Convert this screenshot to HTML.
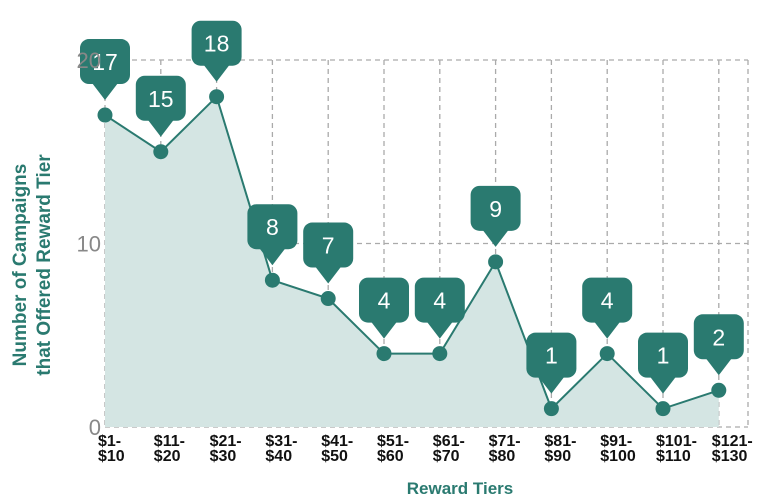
<!DOCTYPE html>
<html><head><meta charset="utf-8"><style>
body{margin:0;background:#fff;}
svg{display:block;font-family:"Liberation Sans",sans-serif;}
</style></head><body>
<svg id="chart" width="784" height="500" viewBox="0 0 784 500">
<g id="grid"></g>
<g id="area"></g>
<g id="labels"></g>
<g id="ticks"></g>
<text transform="translate(26,265) rotate(-90)" text-anchor="middle" fill="#2a7a70" font-weight="bold" font-size="19"><tspan x="0" dy="0">Number of Campaigns</tspan><tspan x="0" dy="24">that Offered Reward Tier</tspan></text>
<text x="460" y="494" text-anchor="middle" fill="#2a7a70" font-weight="bold" font-size="17">Reward Tiers</text>
</svg>
<script>
const categories=["$1-|$10","$11-|$20","$21-|$30","$31-|$40","$41-|$50","$51-|$60","$61-|$70","$71-|$80","$81-|$90","$91-|$100","$101-|$110","$121-|$130"];
const values=[17,15,18,8,7,4,4,9,1,4,1,2];
const yTicks=[0,10,20];
const NS="http://www.w3.org/2000/svg";
const x0=105,step=55.8,yBase=427,yPer=18.35;
const xs=i=>x0+i*step, ys=v=>yBase-v*yPer;
function mk(tag,attrs,parent){const e=document.createElementNS(NS,tag);for(const k in attrs)e.setAttribute(k,attrs[k]);parent.appendChild(e);return e;}
const grid=document.getElementById('grid'),area=document.getElementById('area'),labels=document.getElementById('labels'),ticks=document.getElementById('ticks');
let d="M"+xs(0)+","+yBase;values.forEach((v,i)=>d+=" L"+xs(i)+","+ys(v));d+=" L"+xs(values.length-1)+","+yBase+" Z";
const ar=mk('path',{d:d,fill:"#d4e5e3"},area);


const xEnd=748;
yTicks.forEach(t=>{const l=mk('line',{x1:xs(0),x2:xEnd,y1:ys(t),y2:ys(t),stroke:"#aaa","stroke-dasharray":"5,4","stroke-width":1.3},grid);


const tx=mk('text',{x:xs(0)-4,y:ys(t)+8,"text-anchor":"end",fill:"#888","font-size":22},ticks);tx.textContent=t;

});
categories.forEach((c,i)=>{const l=mk('line',{x1:xs(i),x2:xs(i),y1:ys(20),y2:yBase,stroke:"#aaa","stroke-dasharray":"5,4","stroke-width":1.3},grid);


const p=c.split("|");const t=mk('text',{x:xs(i)-7,y:446,fill:"#111","font-size":16,"font-weight":"bold"},ticks);


mk('tspan',{x:xs(i)-7,dy:0},t).textContent=p[0];mk('tspan',{x:xs(i)-7,dy:15},t).textContent=p[1];});
mk('line',{x1:xEnd,x2:xEnd,y1:ys(20),y2:yBase,stroke:"#aaa","stroke-dasharray":"5,4","stroke-width":1.3},grid);
let pd="";values.forEach((v,i)=>pd+=(i?" L":"M")+xs(i)+","+ys(v));
const ln=mk('path',{d:pd,fill:"none",stroke:"#2a7a70","stroke-width":2},area);


values.forEach((v,i)=>{const x=xs(i),y=ys(v);
const c=mk('circle',{cx:x,cy:y,r:7.5,fill:"#2a7a70"},area);


const g=mk('g',{},labels);


const tip=y-15,bh=45,bw=50,by=tip-16-bh;
mk('rect',{x:x-bw/2,y:by,width:bw,height:bh,rx:9,fill:"#2a7a70"},g);
mk('path',{d:`M${x-13},${by+bh-1} L${x},${tip} L${x+13},${by+bh-1} Z`,fill:"#2a7a70"},g);
const t=mk('text',{x:x,y:by+31,"text-anchor":"middle",fill:"#fff","font-size":23},g);t.textContent=v;});
</script>
</body></html>
